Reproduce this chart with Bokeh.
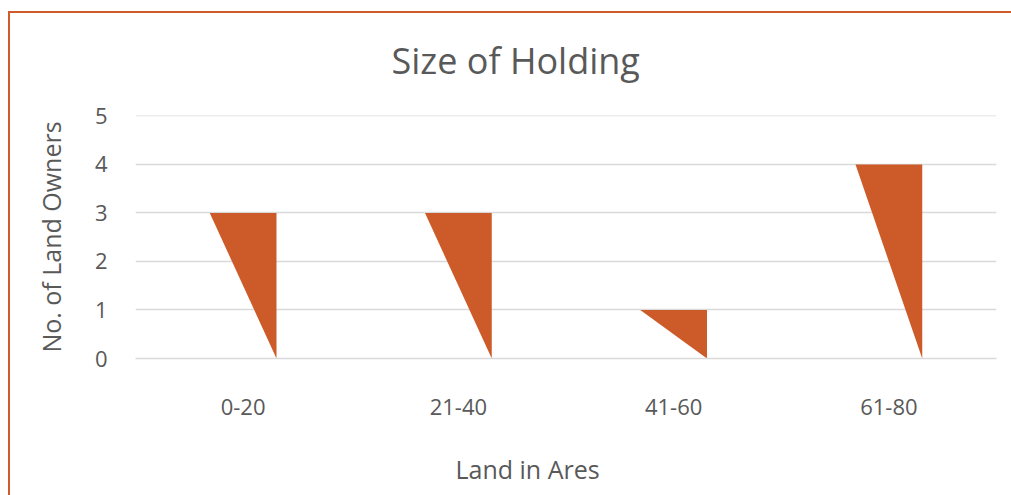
from bokeh.plotting import figure
from bokeh.models import Range1d, FixedTicker, Title
from bokeh.embed import file_html
from bokeh.resources import INLINE

categories = ["0-20", "21-40", "41-60", "61-80"]
owners = [3, 3, 1, 4]
y_ticks = [0, 1, 2, 3, 4, 5]
title_text = "Size of Holding"
x_title = "Land in Ares"
y_title = "No. of Land Owners"

ORANGE = "#CF5A2A"
FILL = "#CD5B29"
TEXT = "#595959"
GRID = "#D9D9D9"
FONT = "Open Sans"

half = 0.155
xs = [[i + 0.5 - half, i + 0.5 + half, i + 0.5 + half] for i in range(len(categories))]
ys = [[v, v, 0] for v in owners]

p = figure(width=1011, height=560, output_backend="svg", toolbar_location=None,
           x_range=Range1d(0, len(categories)), y_range=Range1d(0, 5.01),
           min_border_left=135, min_border_right=15, min_border_top=115,
           min_border_bottom=202)
line = "linear-gradient(%s, %s)" % (ORANGE, ORANGE)
p.styles = {"background": (line + " 8px 11px / 1003px 2px no-repeat, " +
                           line + " 8px 11px / 2px 560px no-repeat, white")}

p.patches(xs, ys, fill_color=FILL, line_color=None)

p.outline_line_color = None
p.background_fill_color = None
p.border_fill_color = None

p.xgrid.grid_line_color = None
p.ygrid.grid_line_color = GRID
p.ygrid.grid_line_width = 1.5
p.yaxis.ticker = FixedTicker(ticks=y_ticks)
p.yaxis.axis_line_color = None
p.yaxis.major_tick_line_color = None
p.yaxis.minor_tick_line_color = None
p.yaxis.major_label_text_font = FONT
p.yaxis.major_label_text_font_size = "22px"
p.yaxis.major_label_text_color = TEXT
p.yaxis.major_label_standoff = 22
p.yaxis.axis_label = y_title
p.yaxis.axis_label_text_font = FONT
p.yaxis.axis_label_text_font_size = "25px"
p.yaxis.axis_label_text_font_style = "normal"
p.yaxis.axis_label_text_color = TEXT
p.yaxis.axis_label_standoff = 24

p.xaxis.ticker = FixedTicker(ticks=[i + 0.5 for i in range(len(categories))])
p.xaxis.major_label_overrides = {i + 0.5: c for i, c in enumerate(categories)}
p.xaxis.axis_line_color = GRID
p.xaxis.axis_line_width = 1.5
p.xaxis.major_tick_line_color = None
p.xaxis.minor_tick_line_color = None
p.xaxis.major_label_text_font = FONT
p.xaxis.major_label_text_font_size = "22px"
p.xaxis.major_label_text_color = TEXT
p.xaxis.major_label_standoff = 34

p.add_layout(Title(text=title_text, align="left", offset=256, standoff=62,
                   text_font=FONT, text_font_size="36px", text_font_style="normal",
                   text_color=TEXT), "above")
p.add_layout(Title(text=x_title, align="left", offset=320, standoff=64,
                   text_font=FONT, text_font_size="25px", text_font_style="normal",
                   text_color=TEXT), "below")

open("out.html", "w").write(file_html(p, INLINE))
